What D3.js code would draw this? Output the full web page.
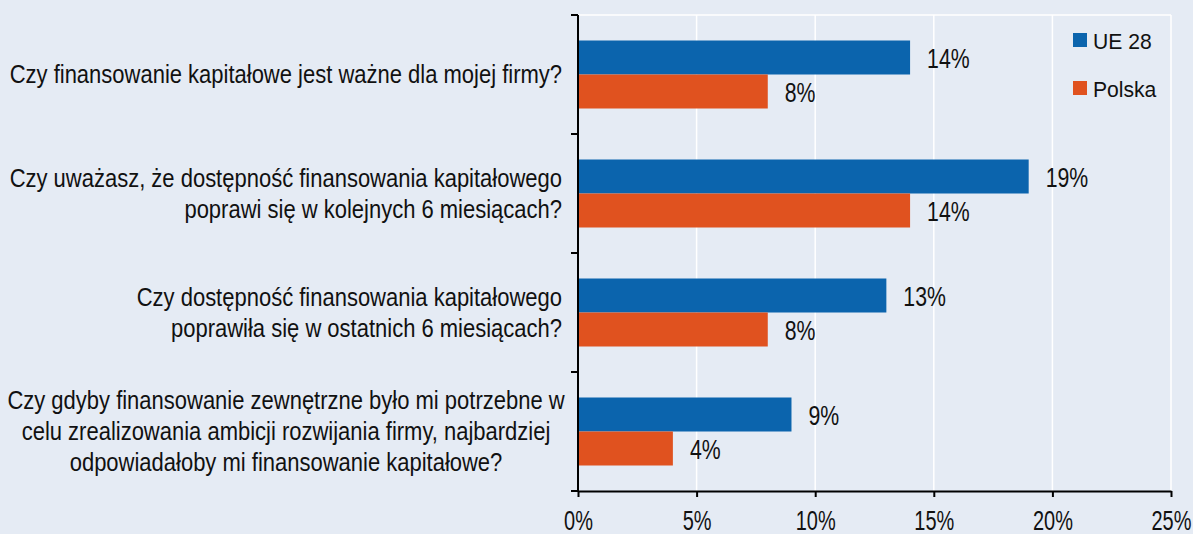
<!DOCTYPE html>
<html>
<head>
<meta charset="utf-8">
<script src="https://cdn.jsdelivr.net/npm/d3@7"></script>
<style>
  body { margin: 0; background: #e5ebf4; }
  svg { display: block; font-family: "Liberation Sans", Arial, sans-serif; }
</style>
</head>
<body>
<svg id="chart" width="1193" height="534"></svg>
<script>
// questions, each split into its display lines
const categories = [
  ["Czy finansowanie kapitałowe jest ważne dla mojej firmy?"],
  ["Czy uważasz, że dostępność finansowania kapitałowego", "poprawi się  w kolejnych 6 miesiącach?"],
  ["Czy dostępność finansowania kapitałowego", "poprawiła się w ostatnich 6 miesiącach?"],
  ["Czy gdyby finansowanie zewnętrzne było mi potrzebne w", "celu zrealizowania ambicji rozwijania firmy, najbardziej", "odpowiadałoby mi finansowanie kapitałowe?"]
];
const seriesNames = ["UE 28", "Polska"];
const ue28 = [0.14, 0.19, 0.13, 0.09];
const polska = [0.08, 0.14, 0.08, 0.04];
const xTicks = [0, 0.05, 0.10, 0.15, 0.20, 0.25];
const colors = ["#0b64ad", "#e0521f"];

const svg = d3.select("#chart");
const plotLeft = 578, plotRight = 1171, plotTop = 15, plotBottom = 491;

let x = d3.scaleLinear().domain([0, 0.25]).range([plotLeft, plotRight]);
let y0 = d3.scaleBand().domain(d3.range(categories.length)).range([plotTop, plotBottom]);
let y1 = d3.scaleBand().domain(seriesNames).range([0, y0.bandwidth()]).paddingOuter(0.75);
let pct = d3.format(".0%");

let rows = categories.map((c, i) => ({ i: i, lines: c, values: [ue28[i], polska[i]] }));

// gridlines
svg.append("g")
  .selectAll("line")
  .data(xTicks.slice(1))
  .enter()
  .append("line")
  .attr("x1", d => x(d)).attr("x2", d => x(d))
  .attr("y1", plotTop).attr("y2", plotBottom)
  .attr("stroke", "#fff")
  .attr("stroke-width", 1.5);

svg.append("line")
  .attr("x1", plotLeft).attr("x2", plotRight)
  .attr("y1", plotTop).attr("y2", plotTop)
  .attr("stroke", "#fff")
  .attr("stroke-width", 1.5);

// bars
let groups = svg.append("g")
  .selectAll("g")
  .data(rows)
  .enter()
  .append("g")
  .attr("transform", d => `translate(0,${y0(d.i)})`);

groups.selectAll("rect")
  .data(d => d.values.map((v, k) => ({ v: v, k: k })))
  .enter()
  .append("rect")
  .attr("x", x(0))
  .attr("y", d => y1(seriesNames[d.k]))
  .attr("width", d => x(d.v) - x(0))
  .attr("height", y1.bandwidth())
  .attr("fill", d => colors[d.k]);

// value labels (condensed look of the original)
groups.selectAll("text.val")
  .data(d => d.values.map((v, k) => ({ v: v, k: k })))
  .enter()
  .append("text")
  .attr("class", "val")
  .attr("transform", d => `translate(${x(d.v) + 17},${y1(seriesNames[d.k]) + y1.bandwidth() / 2 + 10}) scale(0.76,1)`)
  .attr("font-size", 28)
  .attr("fill", "#111")
  .text(d => pct(d.v));

// category labels
let lineH = 31;
groups.each(function (d) {
  let g = d3.select(this);
  let n = d.lines.length;
  let cy = y0.bandwidth() / 2;
  let last = d.i === categories.length - 1;
  let t = g.append("text")
    .attr("font-size", 25)
    .attr("fill", "#111")
    .attr("text-anchor", last ? "middle" : "end")
    .attr("transform", `translate(${last ? 286 : 562},0) scale(0.88,1)`);
  d.lines.forEach((line, j) => {
    t.append("tspan")
      .attr("x", 0)
      .attr("y", cy + (j - (n - 1) / 2) * lineH + 9)
      .text(line);
  });
});

// y axis with ticks at group boundaries
svg.append("line")
  .attr("x1", plotLeft).attr("x2", plotLeft)
  .attr("y1", plotTop).attr("y2", plotBottom)
  .attr("stroke", "#000").attr("stroke-width", 2);

let bounds = y0.domain().map(i => y0(i)).concat([plotBottom]);
svg.append("g")
  .selectAll("line")
  .data(bounds)
  .enter()
  .append("line")
  .attr("x1", plotLeft - 7).attr("x2", plotLeft)
  .attr("y1", d => d).attr("y2", d => d)
  .attr("stroke", "#000").attr("stroke-width", 2);

// x axis
let xAxis = svg.append("g")
  .attr("transform", `translate(0,${plotBottom})`)
  .call(d3.axisBottom(x).tickValues(xTicks).tickFormat(pct).tickSize(6).tickSizeOuter(0));
xAxis.attr("font-family", null).attr("font-size", null);
xAxis.select(".domain").attr("stroke", "#000").attr("stroke-width", 2);
xAxis.selectAll(".tick line").attr("stroke", "#000").attr("stroke-width", 2);
xAxis.selectAll(".tick text")
  .attr("font-size", 27)
  .attr("fill", "#111")
  .attr("dy", null)
  .attr("y", 39)
  .attr("transform", "scale(0.74,1)");

// legend
let legend = svg.append("g")
  .selectAll("g")
  .data(seriesNames)
  .enter()
  .append("g")
  .attr("transform", (d, i) => `translate(1073,${33 + i * 48})`);

legend.append("rect")
  .attr("width", 14).attr("height", 14)
  .attr("fill", (d, i) => colors[i]);

legend.append("text")
  .attr("transform", "translate(20,16) scale(0.96,1)")
  .attr("font-size", 22)
  .attr("fill", "#111")
  .text(d => d);
</script>
</body>
</html>
